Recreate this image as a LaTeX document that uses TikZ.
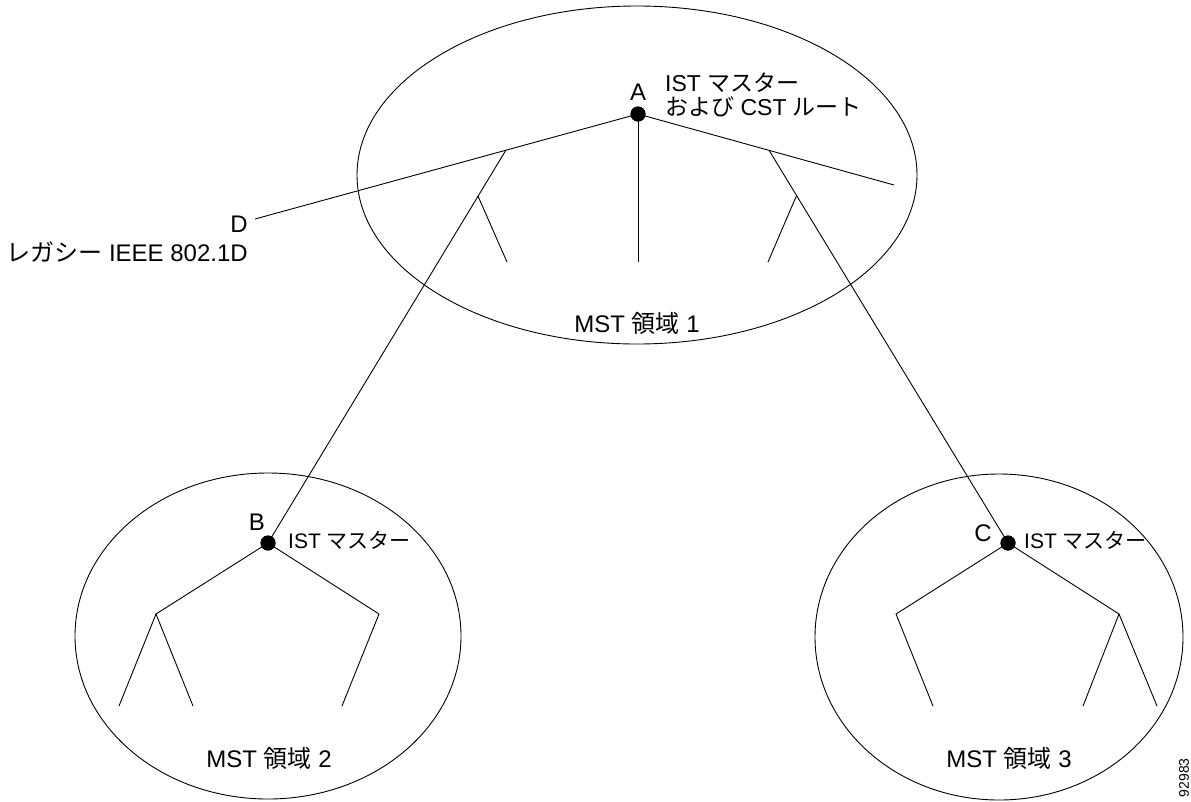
\documentclass[tikz,border=0pt]{standalone}
\usepackage{fontspec}
\setmainfont{Liberation Sans}
\newfontfamily\ja{Noto Sans CJK JP}
\usetikzlibrary{shapes.geometric,calc}
\begin{document}
\begin{tikzpicture}[x=1pt,y=-1pt,
  region/.style={draw, ellipse, inner sep=0pt, line width=0.9pt},
  link/.style={draw, line width=0.9pt},
  bridge/.style={circle, fill=black, inner sep=0pt, minimum size=15pt},
  lbl/.style={inner sep=0pt, font=\fontsize{24}{27}\selectfont},
  tag/.style={inner sep=0pt, font=\fontsize{21}{24}\selectfont},
  fig/.style={inner sep=0pt, font=\fontsize{14}{16}\selectfont}]
\useasboundingbox (0,0) rectangle (1191,801);

% regions
\node[region, minimum width=560pt, minimum height=338pt] (R1) at (637,175) {};
\node[region, minimum width=386pt, minimum height=326pt] (R2) at (268,636) {};
\node[region, minimum width=368pt, minimum height=326pt] (R3) at (999,637) {};

% bridges
\node[bridge] (A) at (638,114) {};
\node[bridge] (B) at (268,543) {};
\node[bridge] (C) at (1008,543) {};

% region 1 tree
\coordinate (D) at (255,219);
\coordinate (E) at (894,185);
\coordinate (j1) at ($(D)!0.655!(A)$);
\coordinate (j3) at ($(A)!0.512!(E)$);
\coordinate (j2) at ($(j1)!0.117!(B)$);
\coordinate (j4) at ($(j3)!0.115!(C)$);
\coordinate (l1) at (507,262);
\coordinate (l2) at (638,262);
\coordinate (l3) at (768,262);
\draw[link] (D) -- (A.center);
\draw[link] (A.center) -- (E);
\draw[link] (A.center) -- (l2);
\draw[link] (j1) -- (B.center);
\draw[link] (j2) -- (l1);
\draw[link] (j3) -- (C.center);
\draw[link] (j4) -- (l3);

% region 2 tree
\coordinate (b1) at (156,614);
\coordinate (b2) at (379,614);
\coordinate (b3) at (119,706);
\coordinate (b4) at (193,706);
\coordinate (b5) at (342,706);
\draw[link] (b1) -- (B.center) -- (b2);
\draw[link] (b3) -- (b1) -- (b4);
\draw[link] (b2) -- (b5);

% region 3 tree
\coordinate (c1) at (896,614);
\coordinate (c2) at (1119,614);
\coordinate (c3) at (933,706);
\coordinate (c4) at (1083,706);
\coordinate (c5) at (1157,706);
\draw[link] (c1) -- (C.center) -- (c2);
\draw[link] (c1) -- (c3);
\draw[link] (c4) -- (c2) -- (c5);

% redraw dots on top
\fill (A) circle[radius=7.5pt];
\fill (B) circle[radius=7.5pt];
\fill (C) circle[radius=7.5pt];

% labels
\node[lbl] (tA) at (638,92) {A};
\node[lbl, anchor=west, align=left, font=\fontsize{23}{24}\selectfont] (tA2) at (665,95) {IST {\ja マスター}\\{\ja および} CST {\ja ルート}};
\node[lbl] (tB) at (257,522) {B};
\node[tag, anchor=west] (tB2) at (288,540) {IST {\ja マスター}};
\node[lbl] (tC) at (983,533) {C};
\node[tag, anchor=west] (tC2) at (1024,540) {IST {\ja マスター}};
\node[lbl] (tD) at (239,224) {D};
\node[lbl, anchor=east] (tD2) at (248,252) {{\ja レガシー} IEEE 802.1D};
\node[lbl] (m1) at (637,323) {MST {\ja 領域} 1};
\node[lbl] (m2) at (269,758) {MST {\ja 領域} 2};
\node[lbl] (m3) at (1009,758) {MST {\ja 領域} 3};
\node[fig, rotate=90, anchor=north east] (fn) at (1179,758) {92983};
\end{tikzpicture}
\end{document}
